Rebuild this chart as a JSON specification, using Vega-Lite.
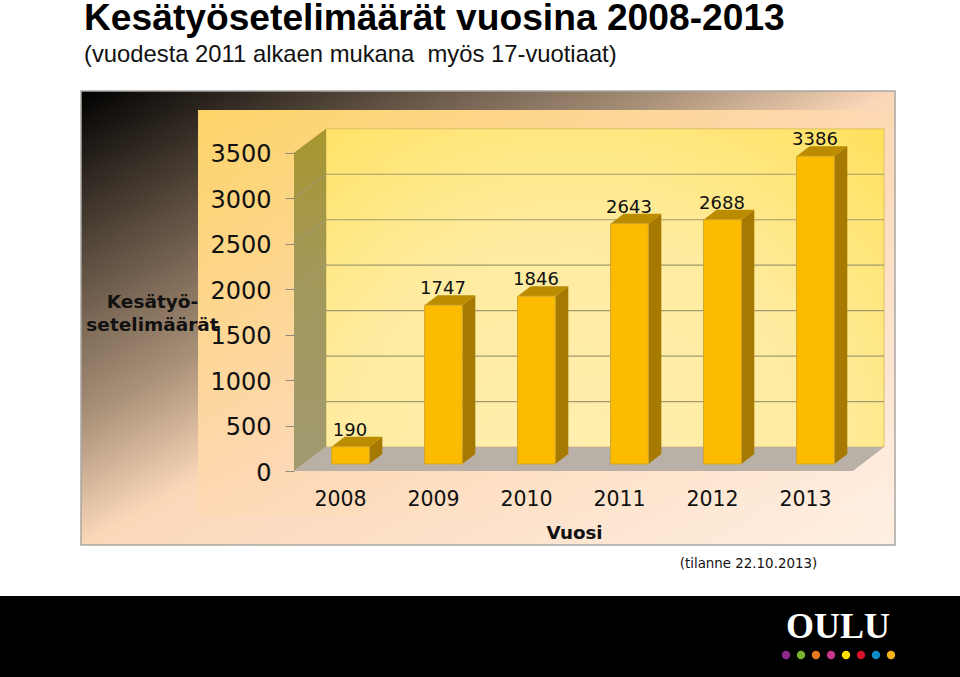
{"$schema":"https://vega.github.io/schema/vega-lite/v6.json","width":960,"height":677,"autosize":"none","padding":0,"background":"white","config":{"view":{"stroke":null}},
"title":{"text":"Kesätyösetelimäärät vuosina 2008-2013","subtitle":"(vuodesta 2011 alkaen mukana \u00a0myös 17-vuotiaat)","anchor":"start","frame":"group","dx":84,"dy":97,"offset":0,"baseline":"alphabetic","font":"Liberation Sans","fontSize":37.2,"fontWeight":"bold","color":"#000000","subtitleFont":"Liberation Sans","subtitleFontSize":23.8,"subtitleColor":"#111111","subtitlePadding":-5},
"datasets":{"bars":[{"year":2008,"value":190},{"year":2009,"value":1747},{"year":2010,"value":1846},{"year":2011,"value":2643},{"year":2012,"value":2688},{"year":2013,"value":3386}],
"grid":[{"level":500},{"level":1000},{"level":1500},{"level":2000},{"level":2500},{"level":3000}]},
"encoding":{"x":{"field":"x","type":"quantitative","title":"Vuosi","scale":{"domain":[2004.3441,2014.6667],"nice":false,"zero":false},"axis":{"orient":"bottom","offset":-206,"values":[2008,2009,2010,2011,2012,2013],"format":"d","domain":false,"ticks":false,"grid":false,"labelFont":"DejaVu Sans","labelFontSize":20.5,"labelColor":"#111111","labelPadding":18,"labelOverlap":false,"labelFlush":false,"titleFont":"DejaVu Sans","titleFontSize":18.3,"titleFontWeight":"bold","titleColor":"#111111","titleX":574,"titleY":53,"titleAnchor":"middle","zindex":1}},
"y":{"field":"y","type":"quantitative","title":["Kesätyö-","setelimäärät"],"scale":{"domain":[-2266,5181],"nice":false,"zero":false},"axis":{"orient":"left","offset":-294,"values":[0,500,1000,1500,2000,2500,3000,3500],"format":"d","domain":false,"tickSize":9,"tickColor":"#8a8a7a","grid":false,"labelFont":"DejaVu Sans","labelFontSize":24,"labelColor":"#111111","labelPadding":14,"labelOffset":2,"labelOverlap":false,"labelFlush":false,"titleFont":"DejaVu Sans","titleFontSize":18.5,"titleFontWeight":"bold","titleColor":"#111111","titleAngle":0,"titleX":-142,"titleY":301,"titleAlign":"center","titleBaseline":"middle","titleLineHeight":23,"zindex":1}}},
"layer":[
{"data":{"values":[{"x":2005.2151,"x2":2013.9677,"y":4180,"y2":-814}]},"mark":{"type":"rect","stroke":"#a9a6a2","strokeWidth":1.5,"fill":{"gradient":"linear","x1":0,"y1":0,"x2":1,"y2":1,"stops":[{"offset":0,"color":"#000000"},{"offset":0.25,"color":"#786553"},{"offset":0.36,"color":"#a89078"},{"offset":0.5,"color":"#fbd7b8"},{"offset":1,"color":"#ffefe2"}]}},"encoding":{"x2":{"field":"x2"},"y2":{"field":"y2"}}},
{"data":{"values":[{"x":2006.4731,"x2":2013.957,"y":3971,"y2":-484}]},"mark":{"type":"rect","fill":{"gradient":"linear","x1":0,"y1":0,"x2":1,"y2":1,"stops":[{"offset":0,"color":"#fdd468"},{"offset":0.5,"color":"#fdd8b4"},{"offset":1,"color":"#feeee2"}]}},"encoding":{"x2":{"field":"x2"},"y2":{"field":"y2"}}},
{"data":{"values":[{"x":2007.8495,"x2":2013.8495,"y":264,"y2":3764}]},"mark":{"type":"rect","stroke":"#dcc060","strokeWidth":1,"fill":{"gradient":"radial","x1":0.45,"y1":0.85,"r1":0,"x2":0.45,"y2":0.85,"r2":1,"stops":[{"offset":0,"color":"#ffefb0"},{"offset":0.45,"color":"#ffeca0"},{"offset":1,"color":"#ffdc40"}]}},"encoding":{"x2":{"field":"x2"},"y2":{"field":"y2"}}},
{"data":{"values":[{"x":2007.5054,"y":3500,"y2":0},{"x":2007.8495,"y":3764,"y2":264}]},"mark":{"type":"area","orient":"vertical","fill":{"gradient":"linear","x1":0,"y1":0,"x2":0,"y2":1,"stops":[{"offset":0,"color":"#a8962e"},{"offset":0.4,"color":"#a39858"},{"offset":1,"color":"#a19a72"}]}},"encoding":{"y2":{"field":"y2"}}},
{"data":{"values":[{"x":2007.5054,"y":0,"y2":0},{"x":2007.8495,"y":264,"y2":0},{"x":2013.5161,"y":264,"y2":0},{"x":2013.8495,"y":264,"y2":264}]},"mark":{"type":"area","orient":"vertical","fill":"#b9b1a8"},"encoding":{"y2":{"field":"y2"}}},
{"data":{"name":"grid"},"transform":[{"calculate":"[0,1,2]","as":"c"},{"flatten":["c"]},{"calculate":"datum.c==0?2007.5054:(datum.c==1?2007.8495:2013.8495)","as":"x"},{"calculate":"datum.level+(datum.c==0?0:264)","as":"y"}],"mark":{"type":"line","stroke":"#a29a6e","strokeWidth":1.2},"encoding":{"detail":{"field":"level"}}},
{"data":{"name":"bars"},"transform":[{"calculate":"[0,1]","as":"c"},{"flatten":["c"]},{"calculate":"datum.year+0.315+datum.c*0.14","as":"x"},{"calculate":"datum.value+77+datum.c*110","as":"y"},{"calculate":"77+datum.c*110","as":"y2"}],"mark":{"type":"area","orient":"vertical","fill":"#a67a00"},"encoding":{"detail":{"field":"year"},"y2":{"field":"y2"}}},
{"data":{"name":"bars"},"transform":[{"calculate":"[0,1,2,3]","as":"c"},{"flatten":["c"]},{"calculate":"datum.c==0?datum.year-0.09:(datum.c==1?datum.year+0.05:(datum.c==2?datum.year+0.315:datum.year+0.455))","as":"x"},{"calculate":"datum.value+77+(datum.c==0?0:110)","as":"y"},{"calculate":"datum.value+77+(datum.c==3?110:0)","as":"y2"}],"mark":{"type":"area","orient":"vertical","fill":"#bb8b00"},"encoding":{"detail":{"field":"year"},"y2":{"field":"y2"}}},
{"data":{"name":"bars"},"transform":[{"calculate":"datum.year-0.09","as":"x"},{"calculate":"datum.year+0.315","as":"x2"},{"calculate":"datum.value+77","as":"y"},{"calculate":"77","as":"y2"}],"mark":{"type":"rect","fill":"#fdbb00","stroke":"#cfa52a","strokeWidth":1},"encoding":{"x2":{"field":"x2"},"y2":{"field":"y2"}}},
{"data":{"name":"bars"},"transform":[{"calculate":"datum.year+0.1075","as":"x"},{"calculate":"datum.value+77+176","as":"y"}],"mark":{"type":"text","font":"DejaVu Sans","fontSize":18,"color":"#111111","align":"center","baseline":"middle"},"encoding":{"text":{"field":"value","type":"quantitative"}}},
{"data":{"values":[{"x":2012.392,"y":-1023,"note":"(tilanne 22.10.2013)"}]},"mark":{"type":"text","font":"DejaVu Sans","fontSize":13.4,"color":"#111111","align":"center","baseline":"middle"},"encoding":{"text":{"field":"note"}}},
{"data":{"values":[{"x":2004.3441,"x2":2014.6667,"y":-1375,"y2":-2266}]},"mark":{"type":"rect","fill":"#000000"},"encoding":{"x2":{"field":"x2"},"y2":{"field":"y2"}}},
{"data":{"values":[{"x":2013.355,"y":-1716,"logo":"OULU"}]},"mark":{"type":"text","font":"Liberation Serif","fontWeight":"bold","fontSize":36,"color":"#ffffff","align":"center","baseline":"middle"},"encoding":{"text":{"field":"logo"}}},
{"data":{"values":[{"x":2012.7957,"y":-2024,"k":1},{"x":2012.957,"y":-2024,"k":2},{"x":2013.118,"y":-2024,"k":3},{"x":2013.28,"y":-2024,"k":4},{"x":2013.441,"y":-2024,"k":5},{"x":2013.602,"y":-2024,"k":6},{"x":2013.763,"y":-2024,"k":7},{"x":2013.925,"y":-2024,"k":8}]},"mark":{"type":"point","filled":true,"opacity":1,"size":70},"encoding":{"color":{"field":"k","type":"nominal","legend":null,"scale":{"domain":[1,2,3,4,5,6,7,8],"range":["#8e2a8e","#7ab32e","#e87a1e","#c8348c","#ffe000","#d8102c","#0f8cc8","#f9b418"]}}}}
]}
